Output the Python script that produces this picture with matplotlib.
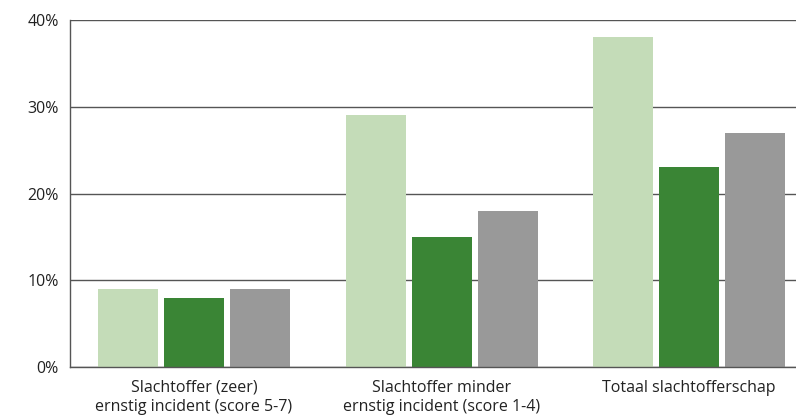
import matplotlib
matplotlib.use("Agg")
from matplotlib import pyplot as plt
import numpy as np

categories = [
    "Slachtoffer (zeer)\nernstig incident (score 5-7)",
    "Slachtoffer minder\nernstig incident (score 1-4)",
    "Totaal slachtofferschap",
]
series_a = [9, 29, 38]  # light green
series_b = [8, 15, 23]  # dark green
series_c = [9, 18, 27]  # grey
colors = ["#c4dcb8", "#3a8535", "#999999"]
yticks = [0, 10, 20, 30, 40]

plt.rcParams["font.family"] = ["Open Sans", "DejaVu Sans"]

fig = plt.figure(figsize=(7.96, 4.18), dpi=100)
ax = fig.add_axes([70 / 796, 1 - 367 / 418, 726 / 796, 347 / 418])

x = np.arange(len(categories))
width = 0.2424
step = 0.2667
for i, (vals, col) in enumerate(zip([series_a, series_b, series_c], colors)):
    ax.bar(x + (i - 1) * step, vals, width=width, color=col, zorder=3)

ax.set_ylim(0, 40)
ax.set_xlim(-0.501, 2.432)
ax.set_yticks(yticks)
ax.set_yticklabels([f"{v}%" for v in yticks])
ax.set_xticks(x)
ax.set_xticklabels(categories, linespacing=1.3)
ax.tick_params(axis="both", length=0, labelsize=11.5, colors="#222222")
ax.tick_params(axis="y", pad=8)
ax.tick_params(axis="x", pad=9)
ax.yaxis.grid(True, color="#555555", linewidth=1, zorder=0)
ax.set_axisbelow(True)
for s in ["top", "right"]:
    ax.spines[s].set_visible(False)
for s in ["left", "bottom"]:
    ax.spines[s].set_color("#555555")
    ax.spines[s].set_linewidth(1)
    ax.spines[s].set_zorder(4)

fig.savefig("out.png", dpi=100)
